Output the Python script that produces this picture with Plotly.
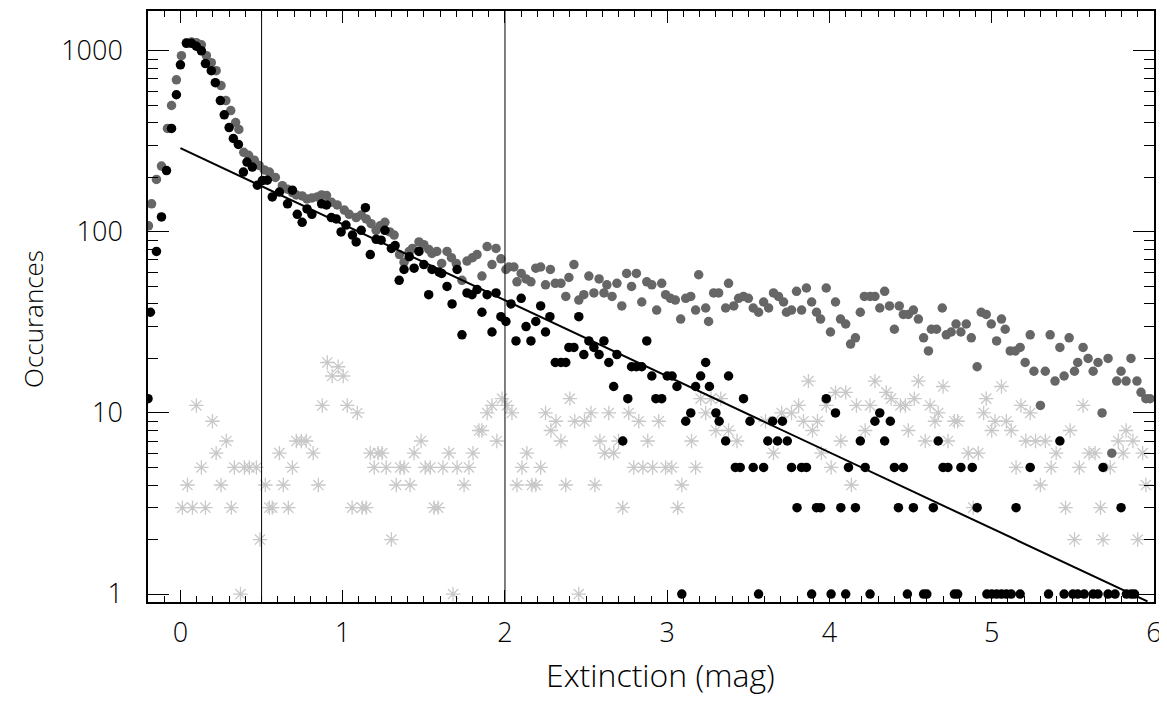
import plotly.graph_objects as go

# all-sources counts (dark grey dots)
gray_x = [-0.197, -0.178, -0.148, -0.117, -0.08, -0.055, -0.025, 0.006, 0.037, 0.068, 0.098, 0.129, 0.16, 0.19,
          0.22, 0.25, 0.28, 0.31, 0.34, 0.36, 0.39, 0.42, 0.455, 0.485, 0.517, 0.548, 0.585, 0.628, 0.66, 0.69,
          0.714, 0.75, 0.78, 0.81, 0.843, 0.87, 0.9, 0.93, 0.966, 1.01, 1.04, 1.083, 1.114, 1.145, 1.175, 1.206,
          1.23, 1.26, 1.29, 1.317, 1.35, 1.378, 1.41, 1.43, 1.47, 1.5, 1.53, 1.55, 1.58, 1.61, 1.643, 1.67, 1.70,
          1.735, 1.766, 1.8, 1.828, 1.858, 1.89, 1.92, 1.945, 1.975, 2.006, 2.025, 2.055, 2.074, 2.1, 2.13, 2.16,
          2.19, 2.22, 2.25, 2.28, 2.31, 2.345, 2.375, 2.394, 2.425, 2.455, 2.486, 2.517, 2.548, 2.58, 2.61, 2.628,
          2.66, 2.69, 2.72, 2.75, 2.78, 2.81, 2.843, 2.874, 2.905, 2.935, 2.966, 2.99, 3.02, 3.05, 3.083, 3.114,
          3.145, 3.175, 3.194, 3.237, 3.255, 3.286, 3.317, 3.36, 3.378, 3.41, 3.44, 3.47, 3.5, 3.53, 3.563, 3.594,
          3.625, 3.655, 3.686, 3.717, 3.735, 3.766, 3.797, 3.828, 3.858, 3.89, 3.92, 3.945, 3.98, 4.006, 4.037,
          4.068, 4.1, 4.13, 4.16, 4.19, 4.215, 4.25, 4.28, 4.31, 4.34, 4.37, 4.4, 4.43, 4.455, 4.486, 4.517, 4.548,
          4.58, 4.61, 4.628, 4.66, 4.695, 4.72, 4.75, 4.78, 4.81, 4.843, 4.874, 4.91, 4.935, 4.966, 4.997, 5.03,
          5.06, 5.083, 5.114, 5.145, 5.175, 5.206, 5.237, 5.26, 5.3, 5.33, 5.36, 5.39, 5.42, 5.446, 5.477, 5.51,
          5.53, 5.563, 5.594, 5.625, 5.655, 5.68, 5.717, 5.74, 5.77, 5.797, 5.828, 5.858, 5.895, 5.92, 5.95, 5.975]
gray_y = [108, 143, 195, 231, 373, 499, 692, 940, 1110, 1120, 1110, 1080, 940, 860,
          777, 643, 531, 468, 402, 368, 275, 265, 249, 233, 220, 214, 200, 180, 172, 165,
          160, 158, 152, 154, 156, 160, 159, 146, 141, 132, 125, 120, 124, 118, 111, 102,
          108, 113, 100, 96, 75, 68, 78, 81, 88, 85, 80, 76, 78, 67, 78, 72, 67,
          54, 69, 72, 75, 57, 83, 66, 81, 71, 62, 64, 64, 53, 59, 55, 53,
          63, 64, 51, 62, 52, 52, 44, 56, 66, 42, 45, 57, 46, 55, 46, 51,
          44, 52, 39, 59, 50, 59, 41, 53, 51, 37, 52, 45, 43, 42, 33, 43,
          44, 37, 58, 38, 32, 46, 46, 38, 52, 39, 43, 44, 43, 38, 36, 41,
          38, 46, 44, 41, 36, 37, 47, 37, 49, 41, 36, 33, 49, 28, 41,
          33, 31, 24, 26, 36, 44, 44, 44, 38, 47, 39, 29, 39, 35, 35, 37, 33,
          26, 22, 29, 29, 38, 27, 28, 31, 28, 31, 26, 18, 36, 35, 31, 25,
          33, 29, 22, 22, 23, 19, 27, 17, 11, 17, 27, 15, 23, 16, 26, 17,
          19, 23, 20, 17, 19, 10, 20, 6, 15, 17, 15, 20, 15, 13, 12, 12]

# selected counts (black dots)
black_x = [-0.2, -0.185, -0.148, -0.117, -0.086, -0.055, -0.025, 0.0, 0.037, 0.068, 0.098, 0.129, 0.154, 0.19,
           0.215, 0.246, 0.27, 0.30, 0.326, 0.357, 0.388, 0.41, 0.443, 0.474, 0.505, 0.535, 0.566, 0.61, 0.66,
           0.69, 0.72, 0.75, 0.78, 0.81, 0.87, 0.9, 0.93, 0.96, 0.99, 1.02, 1.06, 1.083, 1.114, 1.14, 1.17, 1.206,
           1.237, 1.26, 1.3, 1.323, 1.348, 1.378, 1.41, 1.44, 1.47, 1.5, 1.53, 1.55, 1.594, 1.61, 1.643, 1.674,
           1.705, 1.735, 1.766, 1.797, 1.828, 1.858, 1.89, 1.92, 1.945, 1.975, 2.006, 2.037, 2.068, 2.1, 2.13,
           2.16, 2.19, 2.22, 2.25, 2.277, 2.31, 2.345, 2.375, 2.394, 2.425, 2.455, 2.486, 2.517, 2.548, 2.58,
           2.61, 2.64, 2.67, 2.69, 2.726, 2.757, 2.78, 2.81, 2.843, 2.874, 2.905, 2.93, 2.966, 3.0, 3.03, 3.06,
           3.09, 3.114, 3.145, 3.175, 3.206, 3.237, 3.26, 3.3, 3.32, 3.36, 3.378, 3.42, 3.45, 3.47, 3.51, 3.53,
           3.563, 3.594, 3.62, 3.65, 3.68, 3.71, 3.74, 3.766, 3.8, 3.828, 3.858, 3.89, 3.92, 3.945, 3.98, 4.01,
           4.037, 4.07, 4.1, 4.117, 4.16, 4.19, 4.22, 4.25, 4.28, 4.31, 4.34, 4.375, 4.4, 4.425, 4.455, 4.48,
           4.517, 4.58, 4.6, 4.64, 4.67, 4.7, 4.73, 4.77, 4.79, 4.81, 4.88, 4.91, 4.97, 5.0, 5.03, 5.06, 5.09,
           5.12, 5.15, 5.175, 5.237, 5.35, 5.42, 5.446, 5.5, 5.53, 5.57, 5.625, 5.655, 5.686, 5.717, 5.76,
           5.797, 5.83, 5.86, 5.88]
black_y = [12, 36, 78, 121, 218, 373, 572, 837, 1100, 1100, 1060, 1000, 850, 777,
           667, 531, 443, 377, 328, 304, 214, 243, 228, 181, 192, 193, 156, 166, 143,
           170, 125, 113, 134, 125, 143, 141, 120, 118, 100, 109, 96, 88, 102, 136, 75, 91,
           90, 102, 81, 84, 54, 62, 73, 63, 78, 66, 45, 62, 60, 59, 50, 40,
           62, 27, 46, 45, 48, 36, 45, 28, 46, 34, 32, 40, 25, 43, 30,
           25, 32, 39, 28, 34, 19, 19, 19, 23, 23, 34, 21, 25, 23, 21,
           25, 19, 14, 21, 7, 12, 18, 18, 18, 25, 16, 12, 12, 16, 16, 14,
           1, 9, 10, 14, 16, 19, 14, 10, 9, 7, 16, 5, 5, 12, 9, 5,
           1, 5, 7, 9, 7, 9, 7, 5, 3, 5, 5, 1, 3, 3, 12, 1,
           10, 3, 1, 5, 3, 7, 5, 1, 9, 10, 7, 9, 5, 3, 5, 1,
           3, 1, 1, 3, 7, 5, 5, 1, 1, 5, 5, 3, 1, 1, 1, 1, 1,
           1, 3, 1, 5, 1, 7, 1, 1, 1, 1, 1, 1, 5, 1, 1,
           3, 1, 1, 1]

# rejected counts (light grey asterisks)
ast_x = [0.012, 0.043, 0.074, 0.098, 0.129, 0.154, 0.197, 0.22, 0.25, 0.283, 0.314, 0.332, 0.37, 0.394, 0.425,
         0.468, 0.49, 0.523, 0.548, 0.566, 0.61, 0.634, 0.665, 0.69, 0.714, 0.745, 0.775, 0.818, 0.85, 0.874,
         0.905, 0.935, 0.972, 1.003, 1.028, 1.058, 1.09, 1.12, 1.145, 1.17, 1.194, 1.218, 1.243, 1.268, 1.3,
         1.33, 1.354, 1.378, 1.415, 1.44, 1.483, 1.508, 1.54, 1.563, 1.588, 1.618, 1.655, 1.68, 1.705, 1.748,
         1.778, 1.803, 1.84, 1.858, 1.89, 1.92, 1.95, 1.982, 2.012, 2.043, 2.074, 2.105, 2.135, 2.166, 2.19,
         2.22, 2.25, 2.283, 2.314, 2.345, 2.375, 2.4, 2.43, 2.455, 2.49, 2.53, 2.554, 2.585, 2.615, 2.64, 2.67,
         2.7, 2.726, 2.763, 2.794, 2.825, 2.85, 2.88, 2.91, 2.948, 2.99, 3.028, 3.065, 3.09, 3.15, 3.175, 3.206,
         3.237, 3.27, 3.3, 3.33, 3.378, 3.43, 3.606, 3.655, 3.705, 3.766, 3.81, 3.84, 3.87, 3.895, 3.926, 3.95,
         3.98, 4.01, 4.037, 4.07, 4.1, 4.135, 4.166, 4.22, 4.25, 4.28, 4.35, 4.38, 4.437, 4.468, 4.486, 4.523,
         4.548, 4.59, 4.62, 4.65, 4.67, 4.7, 4.73, 4.77, 4.79, 4.855, 4.886, 4.917, 4.95, 4.966, 5.0, 5.02, 5.06,
         5.09, 5.12, 5.15, 5.18, 5.21, 5.237, 5.27, 5.3, 5.33, 5.366, 5.397, 5.455, 5.483, 5.51, 5.54, 5.563,
         5.6, 5.637, 5.67, 5.686, 5.73, 5.78, 5.81, 5.828, 5.87, 5.9, 5.93, 5.95]
ast_y = [3, 4, 3, 11, 5, 3, 9, 6, 4, 7, 3, 5, 1, 5, 5,
         5, 2, 4, 3, 3, 6, 4, 3, 5, 7, 7, 7, 6, 4, 11,
         19, 16, 18, 16, 11, 3, 10, 3, 3, 6, 5, 6, 6, 5, 2,
         4, 5, 5, 4, 6, 7, 5, 5, 3, 3, 5, 6, 1, 5, 4,
         5, 6, 8, 8, 10, 11, 7, 12, 11, 10, 4, 5, 6, 4, 4,
         5, 10, 8, 9, 7, 4, 12, 9, 1, 9, 10, 4, 7, 6, 10, 6,
         7, 3, 10, 5, 9, 5, 7, 5, 9, 5, 5, 3, 4, 7, 5, 12,
         10, 12, 8, 12, 8, 7, 9, 6, 10, 10, 11, 9, 15, 8, 9, 6,
         11, 5, 13, 7, 13, 4, 11, 8, 11, 15, 13, 12, 11, 11, 8, 12,
         15, 7, 11, 9, 10, 14, 7, 9, 9, 6, 3, 6, 10, 12, 8, 9, 14,
         9, 8, 5, 11, 7, 10, 7, 4, 7, 5, 6, 3, 8, 2, 5, 11,
         6, 6, 3, 2, 5, 7, 6, 8, 7, 2, 6, 4]

# exponential fit drawn as a straight line on the log axis
fit_amp = 290.0
fit_slope = -0.42   # dex per mag
fit_x = [0.0, 5.96]
fit_y = [fit_amp * 10 ** (fit_slope * x) for x in fit_x]

cut_lines = [0.5, 2.0]

FONT = "Open Sans"

fig = go.Figure()
fig.add_trace(go.Scatter(x=ast_x, y=ast_y, mode="markers",
                         marker=dict(symbol="asterisk-open", size=12, color="#c8c8c8",
                                     line=dict(color="#c8c8c8", width=1.3))))
fig.add_trace(go.Scatter(x=gray_x, y=gray_y, mode="markers",
                         marker=dict(symbol="circle", size=9.5, color="#666666", line=dict(width=0))))
fig.add_trace(go.Scatter(x=black_x, y=black_y, mode="markers",
                         marker=dict(symbol="circle", size=9.5, color="black", line=dict(width=0))))
fig.add_trace(go.Scatter(x=fit_x, y=fit_y, mode="lines", line=dict(color="black", width=2)))

for xv in cut_lines:
    fig.add_shape(type="line", xref="x", yref="paper", x0=xv, x1=xv, y0=0, y1=1,
                  line=dict(color="black", width=1))

# axis titles placed by hand (IDL puts them a bit off-centre)
fig.add_annotation(text="Extinction (mag)", xref="paper", yref="paper", x=0.509, y=-0.122,
                   xanchor="center", yanchor="middle", showarrow=False, font=dict(size=32))
fig.add_annotation(text="Occurances", xref="paper", yref="paper", x=-0.1143, y=0.479,
                   textangle=-90, xanchor="center", yanchor="middle", showarrow=False, font=dict(size=26))

# the page body adds an 8px margin, so the figure is offset to compensate
fig.update_layout(
    width=1159, height=694,
    margin=dict(l=140, r=13, t=1, b=100),
    paper_bgcolor="white", plot_bgcolor="white",
    showlegend=False,
    font=dict(family=FONT, size=27, color="black", weight=300),
    xaxis=dict(range=[-0.2, 6.0], tick0=0, dtick=1, ticks="inside", ticklen=12, tickwidth=1,
               tickcolor="black", mirror="allticks", showline=True, linecolor="black", linewidth=1.5,
               showgrid=False, zeroline=False, ticklabelstandoff=6,
               minor=dict(ticks="inside", ticklen=6, dtick=0.1, tickcolor="black", showgrid=False)),
    yaxis=dict(type="log", range=[-0.044, 3.22], tickvals=[1, 10, 100, 1000],
               ticktext=["1", "10", "100", "1000"], ticks="inside", ticklen=21, tickwidth=1,
               tickcolor="black", mirror="allticks", showline=True, linecolor="black", linewidth=1.5,
               showgrid=False, zeroline=False, ticklabelstandoff=18,
               minor=dict(ticks="inside", ticklen=10, tickcolor="black", showgrid=False,
                          tickvals=[2, 3, 4, 5, 6, 7, 8, 9, 20, 30, 40, 50, 60, 70, 80, 90,
                                    200, 300, 400, 500, 600, 700, 800, 900])),
)

fig.write_html("out.html")
